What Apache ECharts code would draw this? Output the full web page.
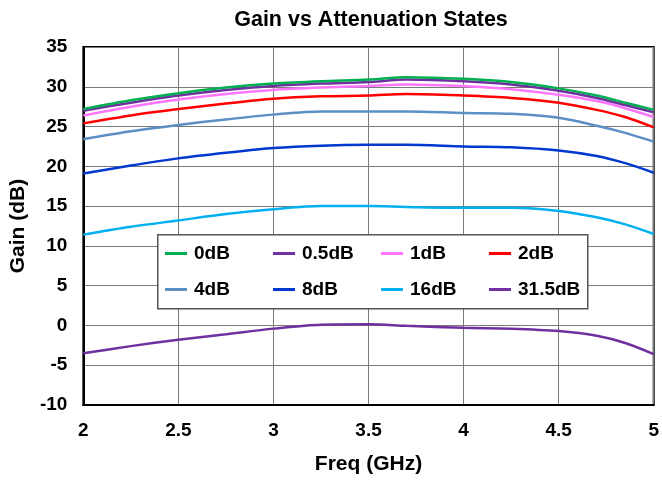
<!DOCTYPE html>
<html><head><meta charset="utf-8">
<script src="https://cdn.jsdelivr.net/npm/echarts@6/dist/echarts.min.js"></script>
<style>html,body{margin:0;padding:0;background:#fff}#c{width:662px;height:480px}</style>
</head><body><div id="c"></div>
<script>
const freq = [2.0, 2.25, 2.5, 2.75, 3.0, 3.25, 3.5, 3.7, 4.0, 4.25, 4.5, 4.7, 4.85, 5.0];
const names = ['0dB','0.5dB','1dB','2dB','4dB','8dB','16dB','31.5dB'];
const g0   = [27.2, 28.3, 29.2, 29.9, 30.4, 30.7, 30.9, 31.2, 31.0, 30.6, 29.8, 28.9, 28.0, 27.1];
const g05  = [27.0, 28.0, 28.9, 29.6, 30.1, 30.4, 30.6, 30.9, 30.7, 30.3, 29.5, 28.6, 27.7, 26.8];
const g1   = [26.4, 27.5, 28.4, 29.1, 29.6, 29.9, 30.1, 30.3, 30.1, 29.7, 29.0, 28.2, 27.3, 26.2];
const g2   = [25.4, 26.4, 27.2, 27.9, 28.5, 28.8, 28.9, 29.1, 28.9, 28.6, 28.0, 27.1, 26.2, 24.9];
const g4   = [23.4, 24.4, 25.2, 25.9, 26.5, 26.9, 26.9, 26.9, 26.7, 26.6, 26.1, 25.1, 24.2, 23.1];
const g8   = [19.1, 20.1, 21.0, 21.7, 22.3, 22.6, 22.7, 22.7, 22.5, 22.4, 22.0, 21.3, 20.4, 19.2];
const g16  = [11.4, 12.4, 13.2, 14.0, 14.6, 15.0, 15.0, 14.9, 14.8, 14.8, 14.4, 13.6, 12.7, 11.5];
const g315 = [-3.5, -2.6, -1.8, -1.1, -0.4, 0.1, 0.15, -0.05, -0.3, -0.4, -0.7, -1.3, -2.2, -3.6];
const colors = ['#00B050','#7030A0','#FF77FF','#FF0000','#5B8FC5','#0038D0','#00B0F0','#7030A0'];
const allData = [g0, g05, g1, g2, g4, g8, g16, g315];

const FONT = 'Liberation Sans, Arial, sans-serif';
const series = allData.map((d, i) => ({
  name: names[i], type: 'line', symbol: 'none', smooth: 0.3, z: 3,
  lineStyle: {color: colors[i], width: 2.5}, itemStyle: {color: colors[i]},
  data: d.map((v, j) => [freq[j], v])
})).reverse();
const legLeft = [165, 273, 381, 489];
const legTop = [244, 280];
const legends = names.map((n, i) => ({
  data: [n], left: legLeft[i % 4], top: legTop[Math.floor(i / 4)], z: 30,
  icon: 'rect', itemWidth: 22, itemHeight: 3, padding: 0,
  textStyle: {fontFamily: FONT, fontWeight: 'bold', fontSize: 19, color: '#000', padding: [0,0,0,2]},
  selectedMode: false
}));
const chart = echarts.init(document.getElementById('c'), null, {renderer: 'canvas'});
chart.setOption({
  animation: false,
  backgroundColor: '#fff',
  title: {text: 'Gain vs Attenuation States', left: 366, textAlign: 'center', top: 4,
    textStyle: {fontFamily: FONT, fontWeight: 'bold', fontSize: 21.5, color: '#000'}},
  grid: {left: 83, right: 5, top: 47, bottom: 72, show: true, borderColor: '#000', borderWidth: 2},
  legend: legends,
  graphic: [{type: 'rect', left: 157, top: 234, shape: {width: 430, height: 74},
    style: {fill: '#fff', stroke: '#555', lineWidth: 1.5}, z: 20}],
  xAxis: {type: 'value', min: 2, max: 5, interval: 0.5,
    name: 'Freq (GHz)', nameLocation: 'middle', nameGap: 49,
    nameTextStyle: {fontFamily: FONT, fontWeight: 'bold', fontSize: 21, color: '#000'},
    axisLine: {show: true, onZero: false, lineStyle: {color: '#000', width: 2}},
    axisTick: {show: false},
    axisLabel: {fontFamily: FONT, fontWeight: 'bold', fontSize: 19, color: '#000', margin: 16},
    splitLine: {show: true, lineStyle: {color: '#7a7a7a', width: 1}}},
  yAxis: {type: 'value', min: -10, max: 35, interval: 5,
    name: 'Gain (dB)', nameLocation: 'middle', nameGap: 54, nameRotate: 90,
    nameTextStyle: {fontFamily: FONT, fontWeight: 'bold', fontSize: 21, color: '#000'},
    axisLine: {show: true, lineStyle: {color: '#000', width: 2}},
    axisTick: {show: false},
    axisLabel: {fontFamily: FONT, fontWeight: 'bold', fontSize: 19, color: '#000', margin: 16},
    splitLine: {show: true, lineStyle: {color: '#7a7a7a', width: 1}}},
  series: series
});
</script></body></html>
